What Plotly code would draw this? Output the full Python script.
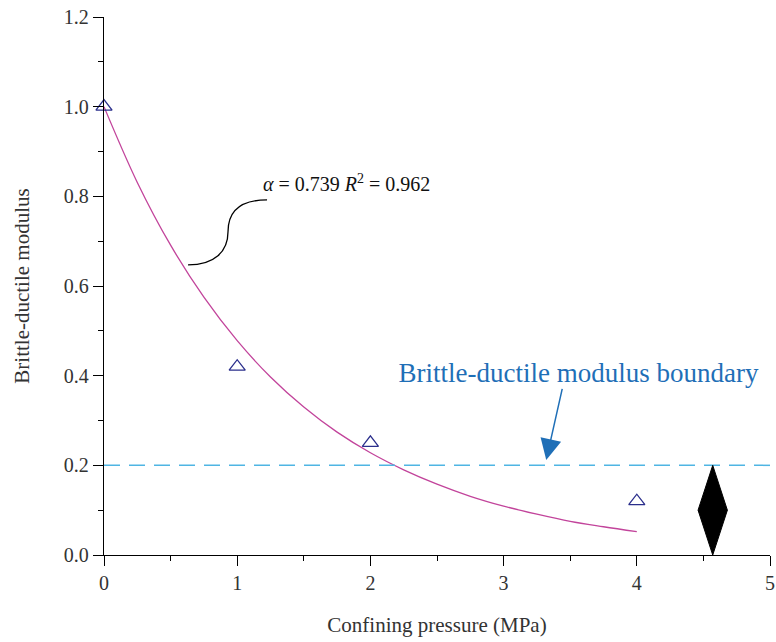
import plotly.graph_objects as go

# Measured data (triangles)
pressure = [0, 1, 2, 4]
modulus = [1.0, 0.42, 0.25, 0.12]

# Fitted curve values (alpha = 0.739)
fit_x = [0, 0.25, 0.5, 0.75, 1.0, 1.25, 1.5, 1.75, 2.0, 2.25, 2.5, 2.75, 3.0, 3.25, 3.5, 3.75, 4.0]
fit_y = [1.0, 0.831, 0.691, 0.575, 0.478, 0.397, 0.330, 0.274, 0.228, 0.190, 0.158, 0.131, 0.109, 0.091, 0.075, 0.063, 0.052]

boundary = 0.2
diamond_center = [4.57, 0.1]
diamond_half = [0.11, 0.1]

FONT = "Liberation Serif"
TXT = "#333333"

fig = go.Figure()

fig.add_trace(go.Scatter(
    x=fit_x, y=fit_y, mode="lines", line=dict(color="#C2449B", width=1.3, shape="spline"),
    showlegend=False, hoverinfo="skip"))

fig.add_trace(go.Scatter(
    x=pressure, y=modulus, mode="markers",
    marker=dict(symbol="triangle-up-open", size=14, color="#2B2F8C", line=dict(width=1.3)),
    cliponaxis=False, showlegend=False))

# Dashed boundary line
fig.add_shape(type="line", xref="paper", x0=0, x1=1.01, yref="y", y0=boundary, y1=boundary,
              line=dict(color="#4FB5E3", width=1.5, dash="16px,9px"))

# Black diamond
cx, cy = diamond_center
hx, hy = diamond_half
fig.add_shape(type="path", xref="x", yref="y",
              path=f"M {cx},{cy - hy} L {cx + hx},{cy} L {cx},{cy + hy} L {cx - hx},{cy} Z",
              fillcolor="black", line=dict(color="black", width=1))

# S-shaped connector for fit annotation
fig.add_shape(type="path", xref="x", yref="y",
              path="M 1.224,0.792 C 1.02,0.792 0.931,0.765 0.931,0.721 C 0.931,0.677 0.83,0.647 0.631,0.647",
              line=dict(color="black", width=1.3))

fig.add_annotation(x=1.817, y=0.83, xref="x", yref="y", showarrow=False,
                   text="<i>α</i> = 0.739 <i>R</i><sup>2</sup> = 0.962",
                   font=dict(family=FONT, size=20, color="#111111"))

fig.add_annotation(x=3.32, y=0.212, xref="x", yref="y", ax=16, ay=-71,
                   showarrow=True, arrowhead=2, arrowsize=2.8, arrowwidth=1.5, arrowcolor="#1F6FB7",
                   text="Brittle-ductile modulus boundary", xanchor="center", yanchor="bottom",
                   width=394, align="right", borderpad=0,
                   font=dict(family=FONT, size=27, color="#1F6FB7"))

axis_common = dict(showline=True, linecolor="black", linewidth=1.3, ticks="outside", ticklen=10,
                   tickwidth=1.3, tickcolor="black", showgrid=False, zeroline=False, automargin=False,
                   tickfont=dict(family=FONT, size=20, color=TXT))

fig.update_xaxes(range=[0, 5], dtick=1, tick0=0,
                 minor=dict(ticks="outside", ticklen=5, dtick=0.5, tick0=0, tickcolor="black", tickwidth=1.3),
                 title=dict(text="Confining pressure (MPa)", font=dict(family=FONT, size=21, color=TXT), standoff=24),
                 **axis_common)
fig.update_yaxes(range=[0, 1.2], dtick=0.2, tick0=0, tickformat=".1f",
                 minor=dict(ticks="outside", ticklen=5, dtick=0.1, tick0=0, tickcolor="black", tickwidth=1.3),
                 title=dict(text="Brittle-ductile modulus", font=dict(family=FONT, size=21, color=TXT), standoff=28),
                 **axis_common)

fig.update_layout(width=776, height=642, margin=dict(l=104, r=6, t=17, b=87),
                  plot_bgcolor="white", paper_bgcolor="white",
                  font=dict(family=FONT, color=TXT))

fig.write_html("out.html")
